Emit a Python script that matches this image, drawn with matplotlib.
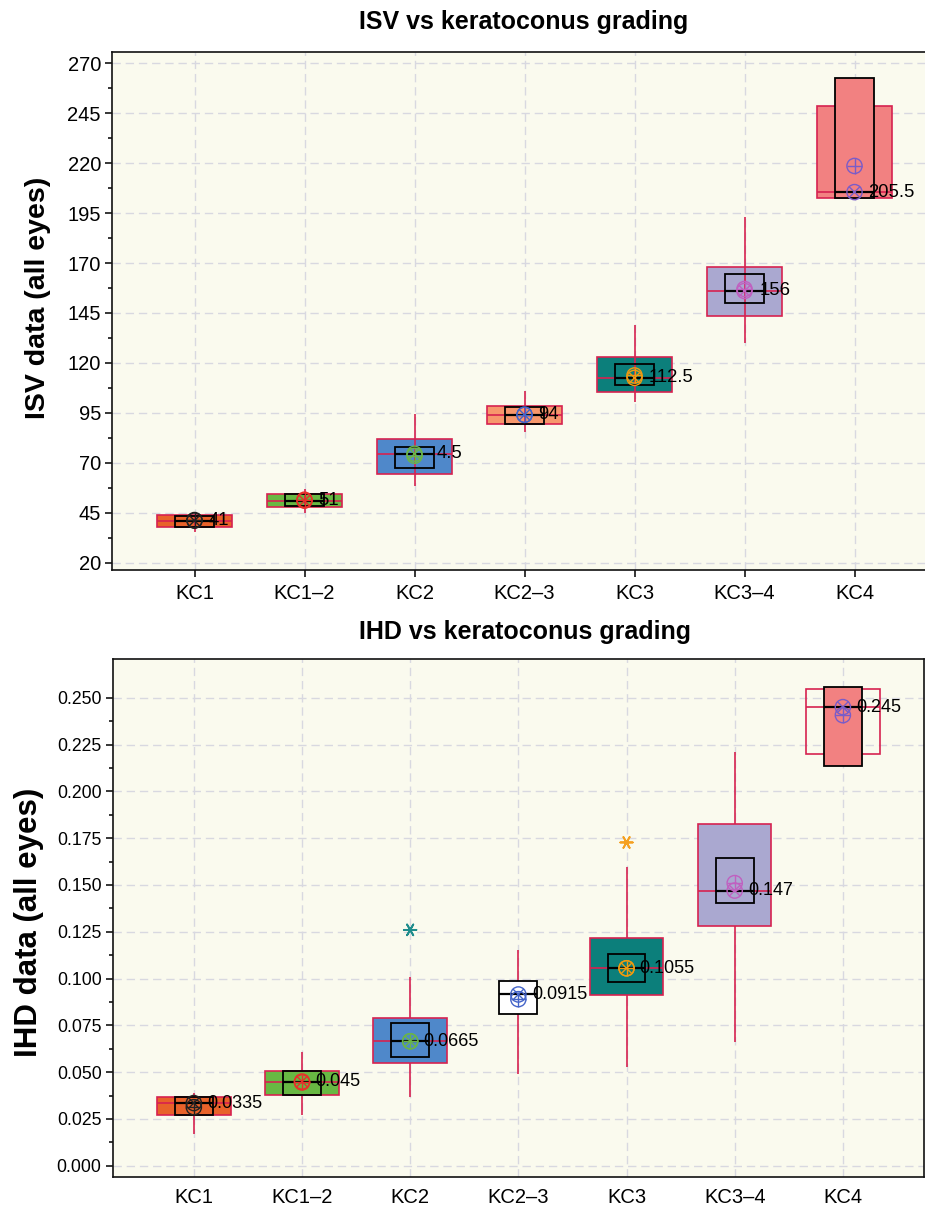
import numpy as np
import matplotlib
matplotlib.use("Agg")
import matplotlib.pyplot as plt

plt.rcParams['font.family'] = ['Liberation Sans', 'DejaVu Sans']

categories = ['KC1', 'KC1–2', 'KC2', 'KC2–3', 'KC3', 'KC3–4', 'KC4']

# ISV (top panel)
isv_q1 = [37.8, 48.0, 64.3, 89.3, 105.2, 143.6, 202.5]
isv_q3 = [43.9, 54.5, 82.0, 98.2, 123.0, 168.0, 248.6]
isv_med = [41.0, 51.0, 74.5, 94.0, 112.5, 156.0, 205.5]
isv_wlo = [35.2, 45.0, 58.4, 85.2, 100.4, 130.2, np.nan]
isv_whi = [43.9, 57.0, 94.6, 106.0, 139.0, 193.2, np.nan]
isv_ci_lo = [38.0, 48.2, 67.3, 89.5, 109.1, 150.0, 202.5]
isv_ci_hi = [43.4, 54.3, 78.0, 98.0, 119.5, 164.3, 262.5]
isv_mean = [41.3, 51.5, 73.5, 94.0, 113.7, 157.0, 218.6]
isv_labels = ['41', '51', '4.5', '94', '112.5', '156', '205.5']

# IHD (bottom panel)
ihd_q1 = [0.0270, 0.0378, 0.0551, 0.0812, 0.0912, 0.1283, 0.2200]
ihd_q3 = [0.0369, 0.0504, 0.0787, 0.0988, 0.1217, 0.1826, 0.2545]
ihd_med = [0.0335, 0.045, 0.0665, 0.0915, 0.1055, 0.147, 0.245]
ihd_wlo = [0.0168, 0.0270, 0.0365, 0.0490, 0.0527, 0.0663, np.nan]
ihd_whi = [0.0390, 0.0610, 0.1010, 0.1150, 0.1597, 0.2211, np.nan]
ihd_ci_lo = [0.0270, 0.0378, 0.0583, 0.0812, 0.0983, 0.1404, 0.2133]
ihd_ci_hi = [0.0369, 0.0504, 0.0760, 0.0988, 0.1132, 0.1642, 0.2560]
ihd_mean = [0.0313, 0.0445, 0.0665, 0.0890, 0.1055, 0.1510, 0.2407]
ihd_labels = ['0.0335', '0.045', '0.0665', '0.0915', '0.1055', '0.147', '0.245']
ihd_out_x = ['KC2', 'KC3']
ihd_out_y = [0.126, 0.1727]
ihd_out_colors = ['#1E8C8C', '#F5A020']

fills = ['#E8622A', '#68B843', '#4F88CA', '#F7976C', '#0C7F7B', '#AAA8D0', '#F28181']
marker_colors = ['#222222', '#E8302A', '#6AB547', '#4464C8', '#F09A10', '#C060C0', '#7A5CC8']
crimson = '#D62250'
bg = '#FAFAEE'

fig = plt.figure(figsize=(9.25, 12.09), dpi=100)
ax1 = fig.add_axes([112 / 925, 1 - 570 / 1209, (937 - 112) / 925, (570 - 51.7) / 1209])
ax2 = fig.add_axes([112.7 / 925, 1 - 1177 / 1209, (924 - 112.7) / 925, (1177 - 659) / 1209])


def draw_panel(ax, q1, q3, med, wlo, whi, ci_lo, ci_hi, mean, labels,
               wide_faces, narrow_faces, whisker_z, label_offsets, label_size):
    x = np.arange(1, len(categories) + 1)
    q1 = np.array(q1); q3 = np.array(q3)
    ci_lo = np.array(ci_lo); ci_hi = np.array(ci_hi)
    ax.vlines(x, wlo, whi, color=crimson, lw=1.2, zorder=whisker_z)
    for i in range(len(x)):
        if wide_faces[i] is not None:
            ax.bar(x[i], q3[i] - q1[i], bottom=q1[i], width=0.68, color=wide_faces[i],
                   edgecolor=crimson, lw=1.2, zorder=2)
            ax.hlines(med[i], x[i] - 0.34, x[i] + 0.34, color=crimson, lw=1.2, zorder=2.5)
        ax.bar(x[i], ci_hi[i] - ci_lo[i], bottom=ci_lo[i], width=0.35, color=narrow_faces[i],
               edgecolor='black', lw=1.3, zorder=4)
        ax.hlines(med[i], x[i] - 0.175, x[i] + 0.175, color='black', lw=1.6, zorder=4.5)
    ax.scatter(x, mean, s=120, facecolors='none', edgecolors=marker_colors, lw=1.0, zorder=5)
    ax.scatter(x, mean, s=120, marker='+', c=marker_colors, lw=1.0, zorder=5)
    ax.scatter(x, med, s=120, facecolors='none', edgecolors=marker_colors, lw=1.0, zorder=5)
    ax.scatter(x, med, s=65, marker='x', c=marker_colors, lw=1.0, zorder=5)
    for i in range(len(x)):
        ax.annotate(labels[i], (x[i], med[i]), xytext=(label_offsets[i], 0),
                    textcoords='offset points', ha='left', va='center',
                    fontsize=label_size, color='black', zorder=6)
    ax.set_facecolor(bg)
    ax.set_xticks(x)
    ax.set_xticklabels(categories)
    ax.grid(True, color='#D8D8E0', lw=1.0, ls=(0, (6, 3.5)), zorder=0)
    ax.set_axisbelow(True)
    for s in ax.spines.values():
        s.set_linewidth(1.2)
        s.set_color('#111111')


draw_panel(ax1, isv_q1, isv_q3, isv_med, isv_wlo, isv_whi, isv_ci_lo, isv_ci_hi, isv_mean,
           isv_labels, fills, ['none'] * 6 + [fills[6]], 3,
           [10, 10, 16, 10, 10, 11, 9.5], 13.3)
bottom_wide = fills[:3] + [None] + fills[4:6] + ['none']
bottom_narrow = ['none', 'none', 'none', 'white', 'none', 'none', fills[6]]
draw_panel(ax2, ihd_q1, ihd_q3, ihd_med, ihd_wlo, ihd_whi, ihd_ci_lo, ihd_ci_hi, ihd_mean,
           ihd_labels, bottom_wide, bottom_narrow, 1.5,
           [9.5, 9.5, 9.5, 10, 9.5, 9.5, 9.5], 13)

ox = [categories.index(c) + 1 for c in ihd_out_x]
ax2.scatter(ox, ihd_out_y, marker=(6, 2, 90), s=80, c=ihd_out_colors, lw=1.3, zorder=5)

# axes ranges and ticks
ax1.set_xlim(0.25, 7.75)
ax1.set_ylim(16.3, 275.8)
ax1.set_yticks(np.arange(20, 271, 25))
ax1.set_yticks(np.arange(32.5, 271, 25), minor=True)
ax1.tick_params(axis='y', which='major', labelsize=14.5, length=5, width=1.1, pad=3)
ax1.tick_params(axis='y', which='minor', length=3, width=1.1)
ax1.tick_params(axis='x', labelsize=14.5, length=5, width=1.1, pad=5)

ax2.set_xlim(0.25, 7.75)
ax2.set_ylim(-0.006, 0.2707)
ax2.set_yticks(np.arange(0, 0.2501, 0.025))
ax2.set_yticks(np.arange(0.0125, 0.26, 0.025), minor=True)
ax2.yaxis.set_major_formatter(matplotlib.ticker.FormatStrFormatter('%.3f'))
ax2.tick_params(axis='y', which='major', labelsize=12.7, length=5, width=1.1, pad=3)
ax2.tick_params(axis='y', which='minor', length=3, width=1.1)
ax2.tick_params(axis='x', labelsize=14.5, length=0, pad=8)

fig.text(524 / 925, 1 - 22 / 1209, 'ISV vs keratoconus grading', ha='center', va='center',
         fontsize=18, fontweight='bold')
fig.text(525 / 925, 1 - 632 / 1209, 'IHD vs keratoconus grading', ha='center', va='center',
         fontsize=18, fontweight='bold')
fig.text(38 / 925, 1 - 298 / 1209, 'ISV data (all eyes)', ha='center', va='center',
         rotation=90, fontsize=20.5, fontweight='bold')
fig.text(29 / 925, 1 - 922 / 1209, 'IHD data (all eyes)', ha='center', va='center',
         rotation=90, fontsize=22.5, fontweight='bold')

fig.savefig('out.png', dpi=100, facecolor='white')
